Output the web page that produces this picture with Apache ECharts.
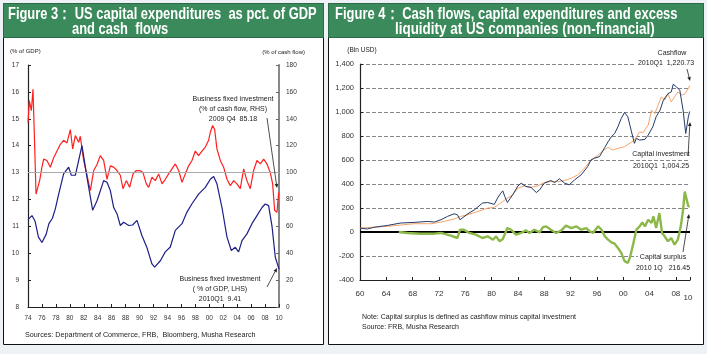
<!DOCTYPE html>
<html>
<head>
<meta charset="utf-8">
<script src="https://cdn.jsdelivr.net/npm/echarts@6/dist/echarts.min.js"></script>
<style>
  html, body { margin: 0; padding: 0; background: #eef1f5; }
  #chart { width: 707px; height: 354px; }
</style>
</head>
<body>
<div id="chart"></div>
<script>
var chart = echarts.init(document.getElementById('chart'));

// Figure 3: business fixed investment, % of GDP (LHS)
var gdpYears = [1974.0, 1974.57, 1975.0, 1975.5, 1976.0, 1976.6, 1977.0, 1977.5, 1977.92, 1978.4, 1979.11, 1979.83, 1980.21, 1980.79,
  1981.27, 1981.74, 1982.46, 1983.27, 1983.9, 1984.85, 1985.33, 1985.81, 1986.29, 1986.76, 1987.24, 1987.72, 1988.44,
  1989.0, 1989.63, 1990.35, 1991.07, 1991.78, 1992.16, 1992.98, 1993.69, 1994.41, 1995.13, 1996.09, 1996.8, 1997.52,
  1998.47, 1999.43, 2000.15, 2000.63, 2001.1, 2001.82, 2002.54, 2003.16, 2003.73, 2004.21, 2004.69, 2005.4, 2006.12,
  2006.84, 2007.56, 2008.03, 2008.51, 2009.0, 2009.47, 2010.0];
var gdpShare = [11.25, 11.4, 11.2, 10.6, 10.4, 10.7, 11.1, 11.3, 11.65, 12.2, 12.95, 13.2, 12.9, 12.9,
  13.45, 14.0, 12.82, 11.6, 11.95, 12.7, 12.64, 12.33, 11.7, 11.47, 11.03, 11.15, 11.03,
  11.05, 11.22, 10.65, 10.2, 9.6, 9.48, 9.72, 10.05, 10.23, 10.85, 11.1, 11.53, 11.84,
  12.2, 12.45, 12.75, 12.85, 12.58, 11.7, 10.6, 10.1, 10.22, 10.05, 10.47, 10.72, 11.1,
  11.4, 11.7, 11.83, 11.77, 11.0, 9.85, 9.41];

// Figure 3: business fixed investment, % of cash flow (RHS)
var cfYears = [1974.0, 1974.19, 1974.48, 1974.72, 1974.96, 1975.15, 1975.43, 1975.67, 1976.0, 1976.25, 1976.72, 1977.2,
  1977.68, 1978.16, 1978.64, 1979.11, 1979.59, 1980.07, 1980.41, 1980.79, 1981.27, 1981.5, 1981.98, 1982.46, 1982.94,
  1983.42, 1983.9, 1984.37, 1984.85, 1985.33, 1985.81, 1986.29, 1986.76, 1987.24, 1987.62, 1988.1, 1988.58, 1989.06,
  1989.54, 1990.01, 1990.49, 1990.97, 1991.3, 1991.78, 1992.26, 1992.74, 1993.22, 1993.69, 1994.17, 1994.65, 1995.13,
  1995.61, 1996.09, 1996.56, 1997.04, 1997.52, 1998.0, 1998.47, 1998.95, 1999.43, 1999.91, 2000.15, 2000.48, 2000.77,
  2001.1, 2001.58, 2002.06, 2002.54, 2003.02, 2003.5, 2003.97, 2004.45, 2004.93, 2005.4, 2005.88, 2006.36, 2006.84,
  2007.32, 2007.8, 2008.27, 2008.75, 2009.09, 2009.37, 2009.71, 2009.95];
var cfShare = [137, 153.5, 146, 162, 119, 84, 85, 94, 104, 110, 109, 104,
  111, 116, 121, 124, 122, 132, 117.6, 127.5, 122.5, 127, 109, 98, 86.6,
  101.5, 106, 112.6, 109, 95, 105, 104, 101.5, 98, 88, 94, 89, 99,
  101.5, 101.5, 100, 91.6, 89, 96.5, 94, 99, 91.6, 95, 99, 102.7, 106.4,
  101.5, 92.8, 99, 105, 109, 116, 112.6, 116, 119, 124, 130, 135, 132,
  117.6, 109, 104, 95, 90.3, 94, 91.6, 88, 102.7, 94, 88, 101.5, 109,
  106.4, 110, 106.4, 100, 91.6, 72, 70.5, 85.18];

// Figure 4: capital investment (Bln USD)
var invYears = [1960.0, 1961.1, 1962.1, 1964.2, 1966.2, 1968.2, 1970.3, 1971.3, 1972.3, 1973.3, 1974.3, 1974.8, 1975.2,
  1976.4, 1977.4, 1978.6, 1979.4, 1980.4, 1980.9, 1981.4, 1981.7, 1982.0, 1982.4, 1983.2, 1984.0, 1984.5, 1985.2,
  1986.0, 1986.8, 1987.3, 1988.0, 1989.0, 1989.6, 1990.3, 1991.1, 1991.8, 1992.6, 1993.6, 1994.6, 1995.1, 1995.6,
  1996.4, 1997.2, 1997.7, 1998.2, 1998.7, 1999.2, 1999.7, 2000.2, 2000.7, 2001.2, 2001.7, 2002.0, 2002.5, 2003.3,
  2003.8, 2004.5, 2005.0, 2005.6, 2006.1, 2006.8, 2007.3, 2007.6, 2008.1, 2008.6, 2009.1, 2009.5, 2009.9, 2010.1];
var invValues = [33, 25, 39, 55, 75, 80, 88, 83, 102, 130, 152, 144, 102,
  152, 185, 241, 246, 230, 282, 324, 343, 296, 246, 310, 384, 407, 379,
  371, 329, 351, 407, 429, 412, 443, 407, 393, 434, 476, 545, 600, 614,
  628, 705, 752, 794, 821, 877, 946, 996, 960, 849, 739, 780, 766, 772,
  808, 877, 960, 1015, 1098, 1153, 1167, 1231, 1209, 1181, 1015, 821, 960, 1004.25];

// Figure 4: cashflow (Bln USD)
var cashYears = [1960.0, 1964.2, 1968.2, 1970.8, 1972.3, 1974.3, 1975.3, 1976.4, 1977.9, 1979.4, 1980.4, 1981.4, 1982.4,
  1983.2, 1984.0, 1985.0, 1986.0, 1987.0, 1988.0, 1989.0, 1990.1, 1991.1, 1992.1, 1993.1, 1994.1, 1995.1, 1996.2,
  1997.2, 1997.7, 1998.4, 1999.2, 2000.2, 2001.0, 2001.7, 2002.5, 2003.0, 2003.8, 2004.3, 2004.8, 2005.3, 2005.8,
  2006.3, 2006.8, 2007.3, 2007.8, 2008.3, 2008.9, 2009.4, 2009.9, 2010.1];
var cashValues = [33, 47, 69, 69, 83, 108, 130, 144, 171, 199, 205, 241, 282,
  310, 365, 384, 373, 384, 412, 420, 420, 429, 448, 476, 531, 600, 642,
  689, 705, 683, 697, 711, 739, 766, 835, 827, 891, 1015, 987, 1057, 1126,
  1098, 1153, 1084, 1126, 1167, 1140, 1153, 1195, 1220.73];

// Figure 4: capital surplus (Bln USD)
var surplusYears = [1965.9, 1967.2, 1969.2, 1971.3, 1972.3, 1973.8, 1974.8, 1975.2, 1975.8, 1976.6, 1977.6, 1978.6,
  1979.4, 1980.2, 1980.7, 1981.2, 1981.7, 1982.4, 1982.95, 1983.7, 1984.5, 1985.2, 1985.75, 1986.5, 1987.3, 1987.8,
  1988.3, 1989.0, 1989.8, 1990.6, 1991.3, 1992.1, 1992.9, 1993.6, 1994.4, 1994.9, 1995.4, 1996.2, 1996.7, 1997.2,
  1997.7, 1998.2, 1998.7, 1999.2, 1999.7, 2000.2, 2000.7, 2001.0, 2001.5, 2002.0, 2002.5, 2002.9, 2003.3, 2003.8,
  2004.3, 2004.6, 2005.0, 2005.5, 2005.9, 2006.3, 2006.8, 2007.3, 2007.8, 2008.3, 2008.75, 2009.1, 2009.35, 2009.6,
  2009.9, 2010.1];
var surplusValues = [0, -8, -14, -14, -8, -30, -50, 19, 19, -8, -22, -50,
  -36, -64, -36, -77, -58, 33, 19, -22, -8, 14, -8, 19, -3, 41,
  47, 19, -8, 14, 53, 33, 47, 19, 33, 6, -8, 47, 19, -36,
  -64, -86, -97, -133, -174, -243, -257, -216, -105, 19, 47, 80, 47, 102,
  75, 130, 33, 158, -8, -36, -77, -50, -105, -64, 47, 185, 337, 351,
  213, 216.45];

function pairs(xs, ys) {
  return xs.map(function (x, i) { return [x, ys[i]]; });
}

var FONT = '"Liberation Sans", Arial, sans-serif';
var green = '#3b8a5b';

function txt(x, y, text, size, opts) {
  opts = opts || {};
  return {
    type: 'text', x: x, y: y, z: 100,
    scaleX: opts.scaleX || 1,
    style: {
      text: text,
      font: (opts.bold ? 'bold ' : '') + size + 'px ' + (opts.family || FONT),
      fill: opts.color || '#222',
      align: opts.align || 'left',
      verticalAlign: 'middle',
      backgroundColor: opts.bg,
      padding: opts.bg ? [1, 2] : 0
    }
  };
}

function arrow(x1, y1, x2, y2) {
  var a = Math.atan2(y2 - y1, x2 - x1), h = 4, w = 1.8;
  var bx = x2 - h * Math.cos(a), by = y2 - h * Math.sin(a);
  return [{
    type: 'line', z: 100,
    shape: { x1: x1, y1: y1, x2: bx, y2: by },
    style: { stroke: '#222', lineWidth: 0.8 }
  }, {
    type: 'polygon', z: 100,
    shape: { points: [[x2, y2], [bx - w * Math.sin(a), by + w * Math.cos(a)], [bx + w * Math.sin(a), by - w * Math.cos(a)]] },
    style: { fill: '#222' }
  }];
}

var graphics = [
  // panels
  { type: 'rect', z: -10, shape: { x: 3.5, y: 3.5, width: 320, height: 341 }, style: { fill: '#fff', stroke: '#111', lineWidth: 1 } },
  { type: 'rect', z: -10, shape: { x: 328.5, y: 3.5, width: 375, height: 341 }, style: { fill: '#fff', stroke: '#111', lineWidth: 1 } },
  { type: 'rect', z: -5, shape: { x: 3.5, y: 3.5, width: 320, height: 34 }, style: { fill: green, stroke: '#2c6a45', lineWidth: 1 } },
  { type: 'rect', z: -5, shape: { x: 328.5, y: 3.5, width: 375, height: 34 }, style: { fill: green, stroke: '#2c6a45', lineWidth: 1 } },
  // titles
  txt(8, 14, 'Figure 3： US capital expenditures  as pct. of GDP', 17, { bold: true, color: '#fff', scaleX: 0.76 }),
  txt(72, 29, 'and cash  flows', 17, { bold: true, color: '#fff', scaleX: 0.76 }),
  txt(335, 14, 'Figure 4： Cash flows, capital expenditures and excess', 17, { bold: true, color: '#fff', scaleX: 0.765 }),
  txt(395, 29, 'liquidity at US companies (non-financial)', 17, { bold: true, color: '#fff', scaleX: 0.79 }),
  // fig 3 axis names
  txt(10, 51, '(% of GDP)', 6),
  txt(305, 52, '(% of cash flow)', 6, { align: 'right' }),
  // fig 3 annotations
  txt(233, 99, 'Business fixed investment', 7, { align: 'center' }),
  txt(233, 109, '(% of cash flow, RHS)', 7, { align: 'center' }),
  txt(233, 119, '2009 Q4  85.18', 7, { align: 'center' }),
  txt(220, 279, 'Business fixed investment', 7, { align: 'center' }),
  txt(220, 289, '( % of GDP, LHS)', 7, { align: 'center' }),
  txt(220, 299, '2010Q1  9.41', 7, { align: 'center' }),
  txt(25, 335, 'Sources: Department of Commerce, FRB,  Bloomberg, Musha Research', 7.2),
  // fig 4 axis name and annotations
  txt(362, 50, '(Bln USD)', 6.5, { align: 'center' }),
  txt(672, 53, 'Cashflow', 7, { align: 'center' }),
  txt(666, 63, '2010Q1  1,220.73', 7, { align: 'center', bg: '#fff' }),
  txt(661, 154, 'Capital investment', 7, { align: 'center', bg: '#fff' }),
  txt(661, 166, '2010Q1  1,004.25', 7, { align: 'center', bg: '#fff' }),
  txt(663, 257, 'Capital surplus', 7, { align: 'center', bg: '#fff' }),
  txt(663, 268, '2010 1Q   216.45', 7, { align: 'center', bg: '#fff' }),
  txt(688, 298, '10', 8, { align: 'center', color: '#333' }),
  txt(362, 317, 'Note: Capital surplus is defined as cashflow minus capital investment', 7),
  txt(362, 327, 'Source: FRB, Musha Research', 7)
];
graphics = graphics
  .concat(arrow(267, 118, 277, 188))
  .concat(arrow(267, 287, 277, 268))
  .concat(arrow(687, 69, 690, 81))
  .concat(arrow(688, 156, 690, 122))
  .concat(arrow(683, 252, 689, 214));

function yearLabel(v) {
  return Math.abs(v - Math.round(v)) < 1e-6 ? String(Math.round(v)).slice(2) : '';
}

var smallLabel = { fontSize: 6.5, color: '#333', fontFamily: FONT };

var option = {
  animation: false,
  textStyle: { fontFamily: FONT },
  grid: [
    { left: 28, top: 65, width: 251, height: 242 },
    { left: 360, top: 64, width: 330, height: 216 }
  ],
  xAxis: [{
    type: 'value', gridIndex: 0, min: 1974, max: 2010, interval: 2,
    axisLine: { lineStyle: { color: '#222', width: 1.2 } },
    axisTick: { inside: true, length: 3, lineStyle: { color: '#222' } },
    axisLabel: Object.assign({ margin: 8, formatter: yearLabel }, smallLabel),
    splitLine: { show: false }
  }, {
    type: 'value', gridIndex: 1, min: 1960, max: 2010.15, interval: 4,
    axisLine: { onZero: false, lineStyle: { color: '#222', width: 1.2 } },
    axisTick: { inside: true, length: 3, lineStyle: { color: '#222' } },
    axisLabel: { margin: 10, fontSize: 8, color: '#333', formatter: yearLabel },
    splitLine: { show: false }
  }],
  yAxis: [{
    type: 'value', gridIndex: 0, min: 8, max: 17, interval: 1,
    axisLine: { show: true, lineStyle: { color: '#222', width: 1.2 } },
    axisTick: { show: true, inside: true, length: 3, lineStyle: { color: '#222' } },
    axisLabel: Object.assign({ margin: 9 }, smallLabel),
    splitLine: { show: false }
  }, {
    type: 'value', gridIndex: 0, position: 'right', min: 0, max: 180, interval: 20,
    axisLine: { show: true, lineStyle: { color: '#888', width: 2 } },
    axisTick: { show: true, inside: true, length: 3, lineStyle: { color: '#666' } },
    axisLabel: Object.assign({ margin: 7 }, smallLabel),
    splitLine: { show: false }
  }, {
    type: 'value', gridIndex: 1, min: -400, max: 1400, interval: 200,
    axisLine: { show: true, lineStyle: { color: '#222', width: 1.2 } },
    axisTick: { show: true, inside: true, length: 3, lineStyle: { color: '#222' } },
    axisLabel: {
      margin: 6, fontSize: 7.5, color: '#333',
      formatter: function (v) { return v.toLocaleString('en-US'); }
    },
    splitLine: { show: true, lineStyle: { color: '#666', type: [4, 2], width: 0.8 } }
  }],
  series: [{
    name: 'Business fixed investment (% of GDP)', type: 'line',
    xAxisIndex: 0, yAxisIndex: 0, data: pairs(gdpYears, gdpShare),
    symbol: 'none', lineStyle: { color: '#1d1f86', width: 1.2 },
    markLine: {
      silent: true, symbol: 'none', label: { show: false },
      lineStyle: { color: '#aaa', type: 'solid', width: 1 },
      data: [{ yAxis: 13 }]
    },
    z: 3
  }, {
    name: 'Business fixed investment (% of cash flow)', type: 'line',
    xAxisIndex: 0, yAxisIndex: 1, data: pairs(cfYears, cfShare),
    symbol: 'none', lineStyle: { color: '#ff1f1f', width: 1.2 }, z: 2
  }, {
    name: 'Cashflow', type: 'line',
    xAxisIndex: 1, yAxisIndex: 2, data: pairs(cashYears, cashValues),
    symbol: 'none', lineStyle: { color: '#f4a46c', width: 1 }, z: 3
  }, {
    name: 'Capital investment', type: 'line',
    xAxisIndex: 1, yAxisIndex: 2, data: pairs(invYears, invValues),
    symbol: 'none', lineStyle: { color: '#233a66', width: 1 }, z: 4
  }, {
    name: 'Capital surplus', type: 'line',
    xAxisIndex: 1, yAxisIndex: 2, data: pairs(surplusYears, surplusValues),
    symbol: 'none', lineStyle: { color: '#8cb84a', width: 2.4 },
    markLine: {
      silent: true, symbol: 'none', label: { show: false },
      lineStyle: { color: '#000', type: 'solid', width: 2 },
      data: [{ yAxis: 0 }]
    },
    z: 5
  }],
  graphic: graphics
};

chart.setOption(option);
</script>
</body>
</html>
